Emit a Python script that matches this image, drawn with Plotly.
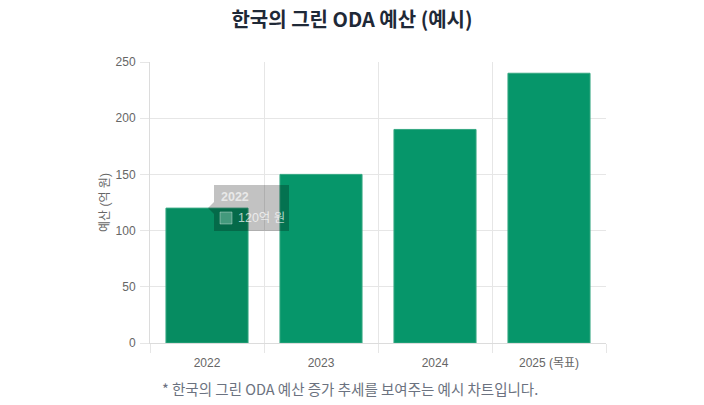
import plotly.graph_objects as go

categories = ["2022", "2023", "2024", "2025 (목표)"]
budget = [120, 150, 190, 240]
y_ticks = [0, 50, 100, 150, 200, 250]

title_text = "한국의 그린 ODA 예산 (예시)"
y_title = "예산 (억 원)"
footnote = "* 한국의 그린 ODA 예산 증가 추세를 보여주는 예시 차트입니다."
tooltip_title = categories[0]
tooltip_body = f"{budget[0]}억 원"

positions = list(range(len(categories)))
bar_fills = ["#068c61", "#06966a", "#06966a", "#06966a"]
bar_line = "#35a882"
grid = "#e6e6e6"
tick_font = dict(family="Liberation Sans, Arial, Noto Sans CJK KR", size=12, color="#666666")

L, R, T, B = 150, 606, 62, 343
W, H = R - L, B - T


def px(x):
    return (x - L) / W


def py(y):
    return (B - y) / H


fig = go.Figure()
fig.add_trace(go.Bar(
    x=positions, y=budget, width=0.72,
    marker=dict(color=bar_fills, line=dict(color=bar_line, width=1)),
    hoverinfo="skip", showlegend=False,
))
# invisible trace on overlay axis for boundary gridlines
fig.add_trace(go.Scatter(x=[-0.5, 3.5], y=[0, 0], xaxis="x2", mode="none",
                         hoverinfo="skip", showlegend=False))

fig.update_layout(
    width=704, height=405,
    margin=dict(l=L, r=704 - R, t=T, b=405 - B),
    paper_bgcolor="white", plot_bgcolor="white",
    hovermode=False,
    title=dict(text=f"<b>{title_text}</b>", x=0.5, xanchor="center", y=1 - 20 / 405, yanchor="middle",
               font=dict(family="Noto Sans CJK KR, Inter, sans-serif", size=20, color="#1f2937")),
    xaxis=dict(range=[-0.5, 3.5], tickvals=positions, ticktext=categories, showgrid=False,
               ticks="", tickfont=tick_font, zeroline=False, showline=True, linecolor="#dcdcdc",
               ticklabelstandoff=9, fixedrange=True),
    xaxis2=dict(range=[-0.5, 3.5], overlaying="x", side="bottom", tickvals=[-0.5, 0.5, 1.5, 2.5, 3.5],
                showticklabels=False, showgrid=True, gridcolor=grid, ticks="outside", ticklen=9,
                tickcolor=grid, zeroline=False, fixedrange=True),
    yaxis=dict(range=[0, 250], tickvals=y_ticks, showgrid=True, gridcolor=grid, ticks="outside",
               ticklen=9, tickcolor=grid, tickfont=tick_font, zeroline=False, showline=True,
               linecolor="#dcdcdc", ticklabelstandoff=2,
               title=dict(text=y_title, font=dict(family="Liberation Sans, Arial, Noto Sans CJK KR",
                                                  size=12, color="#666666"), standoff=3),
               fixedrange=True),
    annotations=[
        dict(text=footnote, xref="paper", yref="paper", x=px(350), y=py(388), xanchor="center",
             yanchor="middle", showarrow=False,
             font=dict(family="Noto Sans CJK KR, sans-serif", size=14.5, color="#6b7280")),
        dict(text=f"<b>{tooltip_title}</b>", xref="paper", yref="paper", x=px(219),
             y=py(197), xanchor="left", yanchor="middle", showarrow=False,
             font=dict(family="Liberation Sans, Arial", size=12.5, color="rgba(255,255,255,0.65)")),
        dict(text=tooltip_body, xref="paper", yref="paper", x=px(236),
             y=py(218), xanchor="left", yanchor="middle", showarrow=False,
             font=dict(family="Liberation Sans, Arial, Noto Sans CJK KR", size=12.5,
                       color="rgba(255,255,255,0.7)")),
    ],
    shapes=[
        dict(type="rect", xref="paper", yref="paper", x0=px(214), x1=px(289),
             y0=py(231), y1=py(185), fillcolor="rgba(0,0,0,0.24)",
             line=dict(width=0), layer="above"),
        dict(type="path", xref="paper", yref="paper",
             path=f"M {px(214)},{py(202)} L {px(208)},{py(208)} L {px(214)},{py(214)} Z",
             fillcolor="rgba(0,0,0,0.24)", line=dict(width=0), layer="above"),
        dict(type="rect", xref="paper", yref="paper", x0=px(220), x1=px(232),
             y0=py(224), y1=py(212), fillcolor="rgba(130,200,175,0.5)",
             line=dict(color="rgba(255,255,255,0.35)", width=1), layer="above"),
    ],
)

fig.write_html("out.html", config={"displayModeBar": False},
               post_script="document.body.style.margin='0';")
